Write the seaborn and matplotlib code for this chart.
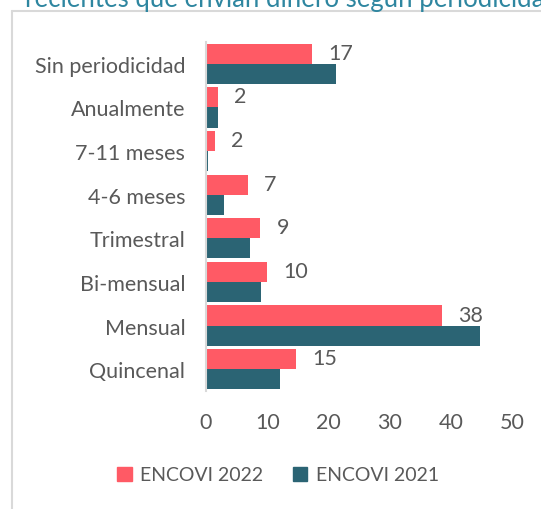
import matplotlib
matplotlib.use("Agg")
import matplotlib.pyplot as plt
import seaborn as sns
import pandas as pd
from matplotlib.lines import Line2D

categories = ["Sin periodicidad", "Anualmente", "7-11 meses", "4-6 meses",
              "Trimestral", "Bi-mensual", "Mensual", "Quincenal"]
values_2022 = [17.4, 1.9, 1.5, 6.9, 8.9, 10.0, 38.5, 14.7]
values_2021 = [21.3, 1.9, 0.3, 3.0, 7.2, 9.0, 44.7, 12.1]
labels_2022 = ["17", "2", "2", "7", "9", "10", "38", "15"]
series = ["ENCOVI 2022", "ENCOVI 2021"]
xticks = [0, 10, 20, 30, 40, 50]
title_text = "recientes que envían dinero según periodicidad"

colors = {"ENCOVI 2022": "#FF5A65", "ENCOVI 2021": "#2B6474"}
text_color = "#595959"

df = pd.DataFrame({
    "cat": categories * 2,
    "val": values_2022 + values_2021,
    "serie": [series[0]] * len(categories) + [series[1]] * len(categories),
})

sns.set_style("white")
plt.rcParams["font.family"] = ["Lato", "DejaVu Sans"]

fig = plt.figure(figsize=(5.41, 5.10), dpi=100)
ax = fig.add_axes([206 / 541, 1 - 392 / 510, (512 - 206) / 541, (392 - 43) / 510])

sns.barplot(data=df, y="cat", x="val", hue="serie", order=categories,
            hue_order=series, palette=colors, orient="h", width=0.92,
            saturation=1, ax=ax, legend=False, edgecolor="none")

ax.set_xlim(0, 50)
ax.set_xticks(xticks)
ax.set_xticklabels([str(t) for t in xticks])
ax.set_xlabel("")
ax.set_ylabel("")
for s in ["top", "right", "bottom"]:
    ax.spines[s].set_visible(False)
ax.spines["left"].set_color("#D9D9D9")
ax.spines["left"].set_linewidth(1.5)
ax.tick_params(axis="both", length=0, labelsize=15.5, colors=text_color)
ax.tick_params(axis="x", pad=15)
ax.tick_params(axis="y", pad=15)
for lbl in ax.get_yticklabels():
    lbl.set_y(lbl.get_position()[1])
    lbl.set_va("center_baseline")

# labels on 2022 bars
bars_2022 = ax.containers[0]
for rect, lab in zip(bars_2022, labels_2022):
    ax.annotate(lab, xy=(rect.get_width(), rect.get_y() + rect.get_height() / 2),
                xytext=(16, 1), textcoords="offset pixels", ha="left", va="center",
                fontsize=15.5, color=text_color)

handles = [plt.Rectangle((0, 0), 1, 1, color=colors[s]) for s in series]
fig.legend(handles, series, loc="center", bbox_to_anchor=(278 / 541, 1 - 476 / 510),
           ncol=2, frameon=False, fontsize=14, labelcolor=text_color,
           handlelength=0.75, handleheight=0.75, handletextpad=0.45, columnspacing=1.5)

# outer frame lines
fig.add_artist(Line2D([12 / 541, 12 / 541], [0, 1 - 12 / 510], transform=fig.transFigure,
                      color="#D9D9D9", lw=1.5))
fig.add_artist(Line2D([12 / 541, 1], [1 - 12 / 510, 1 - 12 / 510], transform=fig.transFigure,
                      color="#D9D9D9", lw=1.5))

fig.text(25 / 541, 1 - 7 / 510, title_text, fontsize=18.5, color="#2E86A0",
         ha="left", va="baseline")

fig.savefig("out.png", dpi=100)
